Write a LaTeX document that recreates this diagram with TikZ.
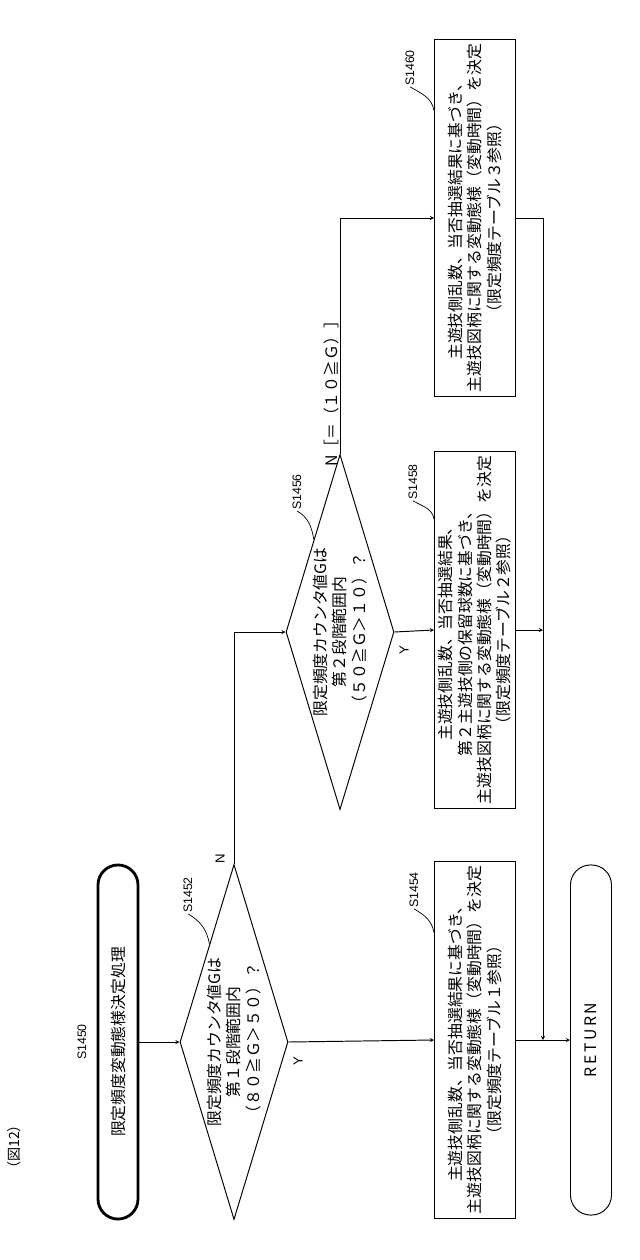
\documentclass[tikz,border=0pt]{standalone}
\usepackage{fontspec}
\setmainfont{Noto Sans CJK JP}
\setsansfont{Liberation Sans}
\usepackage{tikz}
\usetikzlibrary{arrows.meta,calc,arrows,positioning,shapes.geometric}
\pgfdeclarelayer{edgelayer}
\pgfdeclarelayer{nodelayer}
\pgfsetlayers{edgelayer,nodelayer,main}
\tikzstyle{inarrow}=[->, >=stealth, line width=1.1pt]
\tikzstyle{simple}=[-, line width=1.1pt]
\tikzstyle{terminal}=[draw, rectangle, rounded corners=0.8cm, rotate=90, inner sep=0pt, font=\fontsize{18}{22}\selectfont]
\tikzstyle{decision}=[draw, diamond, rotate=90, inner sep=0pt, line width=1.1pt, minimum width=14.2cm, minimum height=4.32cm]
\tikzstyle{process}=[draw, rectangle, rotate=90, inner sep=0pt, line width=1.1pt, minimum width=14.28cm, minimum height=3.24cm, align=center, font=\fontsize{18}{22}\selectfont]
\tikzstyle{qtext}=[rotate=90, align=center, font=\fontsize{18}{22}\selectfont]
\tikzstyle{steplabel}=[rotate=90, inner sep=1pt, font=\sffamily\fontsize{14}{16}\selectfont]
\tikzstyle{yn}=[rotate=90, inner sep=0pt, font=\sffamily\fontsize{15}{17}\selectfont]
\tikzstyle{squiggle}=[-, line width=0.8pt]

\begin{document}
\begin{tikzpicture}[x=0.04cm, y=-0.04cm]
	\useasboundingbox (0,0) rectangle (640,1260);
	\begin{pgfonlayer}{nodelayer}
		\node [qtext, font=\fontsize{16}{18}\selectfont] (fig) at (14,1147) {（図12）};
		\node [terminal, line width=3.2pt, minimum width=14.16cm, minimum height=1.6cm] (start) at (118,1042) {限定頻度変動態様決定処理};
		\node [steplabel] (l1450) at (82,1042) {S1450};

		\node [decision] (d1) at (234,1042) {};
		\node [qtext] (q1) at (234,1042) {限定頻度カウンタ値Gは\\第１段階範囲内\\（８０≧Ｇ＞５０）？};
		\node [steplabel] (l1452) at (188,895) {S1452};
		\node [yn] (y1) at (298,1061) {Y};
		\node [yn] (n1) at (220,859) {N};

		\node [process] (b1454) at (475,1040) {主遊技側乱数、当否抽選結果に基づき、\\主遊技図柄に関する変動態様（変動時間）を決定\\（限定頻度テーブル１参照）};
		\node [steplabel] (l1454) at (414,890) {S1454};

		\node [terminal, line width=1.1pt, minimum width=14cm, minimum height=1.64cm] (ret) at (591,1040) {R\,E\,T\,U\,R\,N};

		\node [decision] (d2) at (340,632) {};
		\node [qtext] (q2) at (340,632) {限定頻度カウンタ値Gは\\第２段階範囲内\\（５０≧Ｇ＞１０）？};
		\node [steplabel] (l1456) at (297,492) {S1456};
		\node [yn] (y2) at (404,650) {Y};
		\node [qtext] (n2) at (331,390) {N［＝（１０≧Ｇ）］};

		\node [process] (b1458) at (475,630) {主遊技側乱数、当否抽選結果、\\第２主遊技側の保留球数に基づき、\\主遊技図柄に関する変動態様（変動時間）を決定\\（限定頻度テーブル２参照）};
		\node [steplabel] (l1458) at (413,482) {S1458};

		\node [process] (b1460) at (475,218) {主遊技側乱数、当否抽選結果に基づき、\\主遊技図柄に関する変動態様（変動時間）を決定\\（限定頻度テーブル３参照）};
		\node [steplabel] (l1460) at (410,68) {S1460};

		\coordinate (jn) at (543,1040);
	\end{pgfonlayer}
	\begin{pgfonlayer}{edgelayer}
		\draw [style=inarrow] (start.south) to (d1.north);
		\draw [style=inarrow] (d1.south) to (b1454.north);
		\draw [style=inarrow] (b1454.south) to (ret.north);
		\draw [style=inarrow] (d1.east) |- (d2.north);
		\draw [style=inarrow] (d2.south) to (b1458.north);
		\draw [style=inarrow] (d2.east) |- (b1460.north);
		\draw [style=inarrow] (b1460.south) -| (jn);
		\draw [style=inarrow] (b1458.south) to (b1458.south -| jn);
		\draw [style=squiggle] (l1452.west) to [out=-30, in=100] ($(d1.north)!0.55!(d1.east)$);
		\draw [style=squiggle] (l1456.west) to [out=-30, in=100] ($(d2.north)!0.52!(d2.east)$);
		\draw [style=squiggle] (l1454.west) to [out=-30, in=100] ($(b1454.north east)!0.2!(b1454.north west)$);
		\draw [style=squiggle] (l1458.west) to [out=-30, in=100] ($(b1458.north east)!0.19!(b1458.north west)$);
		\draw [style=squiggle] (l1460.west) to [out=-30, in=100] ($(b1460.north east)!0.2!(b1460.north west)$);
	\end{pgfonlayer}
\end{tikzpicture}
\end{document}
